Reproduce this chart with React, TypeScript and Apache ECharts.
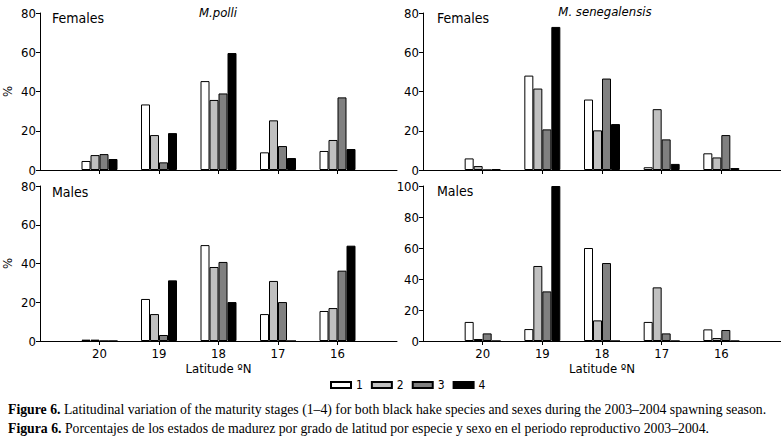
import React, { useEffect, useRef } from 'react';
import * as echarts from 'echarts';

const latitudes = [20, 19, 18, 17, 16];
const stageNames = ['1', '2', '3', '4'];
const stageColors = ['#ffffff', '#c0c0c0', '#808080', '#000000'];

// values per stage (1..4), each across latitudes 20,19,18,17,16
const polliFemales = [
  [4.6, 33.4, 45.3, 9.0, 9.7],
  [7.6, 17.8, 35.7, 25.3, 15.3],
  [8.1, 3.9, 39.0, 12.2, 37.0],
  [5.6, 18.8, 59.6, 6.1, 10.7],
];
const senegalensisFemales = [
  [5.9, 48.1, 35.9, 1.4, 8.5],
  [2.0, 41.5, 20.2, 31.0, 6.4],
  [0, 20.7, 46.6, 15.6, 17.8],
  [0.4, 72.9, 23.4, 3.1, 1.0],
];
const polliMales = [
  [0.7, 21.7, 49.5, 13.9, 15.5],
  [0.7, 13.9, 38.2, 31.0, 17.0],
  [0, 3.1, 40.8, 20.1, 36.3],
  [0, 31.3, 20.1, 0, 49.2],
];
const senegalensisMales = [
  [12.3, 7.7, 60.0, 12.3, 7.5],
  [1.3, 48.4, 13.3, 34.6, 1.9],
  [4.9, 32.0, 50.3, 4.9, 7.1],
  [0, 100, 0, 0, 0],
];

const yMax = [80, 80, 80, 100];
const panelTexts = ['Females', 'Females', 'Males', 'Males'];
const speciesTitles = ['M.polli', 'M. senegalensis'];
const xAxisTitle = 'Latitude ºN';
const yAxisTitle = '%';
const captionEnBold = 'Figure 6.';
const captionEn = ' Latitudinal variation of the maturity stages (1–4) for both black hake species and sexes during the 2003–2004 spawning season.';
const captionEsBold = 'Figura 6.';
const captionEs = ' Porcentajes de los estados de madurez por grado de latitud por especie y sexo en el periodo reproductivo 2003–2004.';

const FONT = "'Liberation Sans Narrow', 'Arial Narrow', 'DejaVu Sans Condensed', 'Liberation Sans', sans-serif";
const SERIF = "'Liberation Serif', 'Times New Roman', serif";

export default function App() {
  const ref = useRef<HTMLDivElement>(null);
  useEffect(() => {
    const chart = echarts.init(ref.current!, null, { renderer: 'svg' });
    const panels = [polliFemales, senegalensisFemales, polliMales, senegalensisMales];
    const grids = [
      { left: 37, top: 13, width: 360, height: 157 },
      { left: 423, top: 13, width: 360, height: 157 },
      { left: 37, top: 186, width: 360, height: 155 },
      { left: 423, top: 186, width: 360, height: 155 },
    ];
    const xAxis = grids.map((_, i) => {
      const bottom = i >= 2;
      return {
        type: 'value',
        gridIndex: i,
        min: 15,
        max: 21,
        interval: 1,
        inverse: true,
        axisLine: { show: true, onZero: false, lineStyle: { color: '#000', width: 1 } },
        axisTick: { show: true, length: 4, customValues: latitudes, lineStyle: { color: '#000', width: 1 } },
        axisLabel: {
          show: bottom,
          customValues: latitudes,
          margin: 6,
          color: '#000',
          fontSize: 13,
          fontFamily: FONT,
        },
        splitLine: { show: false },
        name: bottom ? xAxisTitle : '',
        nameLocation: 'middle',
        nameGap: 21,
        nameTextStyle: { color: '#000', fontSize: 13, fontFamily: FONT },
      };
    });
    const yAxis = grids.map((_, i) => ({
      type: 'value',
      gridIndex: i,
      min: 0,
      max: yMax[i],
      interval: 20,
      axisLine: { show: true, lineStyle: { color: '#000', width: 1 } },
      axisTick: { show: true, length: 4, lineStyle: { color: '#000', width: 1 } },
      axisLabel: { margin: 4, color: '#000', fontSize: 13, fontFamily: FONT },
      splitLine: { show: false },
      name: i % 2 === 0 ? yAxisTitle : '',
      nameLocation: 'middle',
      nameRotate: 90,
      nameGap: 26,
      nameTextStyle: { color: '#000', fontSize: 13, fontFamily: FONT },
    }));
    const series: any[] = [];
    panels.forEach((panel, p) => {
      panel.forEach((vals, s) => {
        series.push({
          type: 'bar',
          name: stageNames[s],
          xAxisIndex: p,
          yAxisIndex: p,
          barWidth: 9,
          barGap: '0%',
          silent: true,
          itemStyle: { color: stageColors[s], borderColor: '#000', borderWidth: 1 },
          data: latitudes.map((lat, k) => [lat, vals[k]]),
        });
      });
    });
    const txt = (text: string, x: number, y: number, size: number, extra: any = {}) => ({
      type: 'text',
      x,
      y,
      silent: true,
      style: {
        text,
        fill: '#000',
        fontSize: size,
        fontFamily: FONT,
        verticalAlign: 'middle',
        align: 'left',
        ...extra,
      },
    });
    const caption = (bold: string, rest: string, y: number) => ({
      type: 'text',
      x: 8,
      y,
      silent: true,
      style: {
        text: '{b|' + bold + '}' + rest,
        fill: '#000',
        fontSize: 13.75,
        fontFamily: SERIF,
        verticalAlign: 'middle',
        rich: { b: { fontWeight: 'bold', fontSize: 13.75, fontFamily: SERIF, fill: '#000' } },
      },
    });
    const graphic = [
      txt(panelTexts[0], 52, 18, 14),
      txt(panelTexts[1], 437, 18, 14),
      txt(panelTexts[2], 52, 192, 14),
      txt(panelTexts[3], 437, 191, 14),
      txt(speciesTitles[0], 218, 12, 13, { align: 'center', fontStyle: 'italic' }),
      txt(speciesTitles[1], 605, 11, 13, { align: 'center', fontStyle: 'italic' }),
      caption(captionEnBold, captionEn, 409),
      caption(captionEsBold, captionEs, 428),
    ];
    chart.setOption({
      animation: false,
      backgroundColor: '#fff',
      grid: grids,
      xAxis,
      yAxis,
      series,
      graphic,
      legend: {
        data: stageNames,
        left: 330,
        top: 379,
        padding: 0,
        itemWidth: 20,
        itemHeight: 6,
        itemGap: 8,
        icon: 'rect',
        selectedMode: false,
        textStyle: { color: '#000', fontSize: 12, fontFamily: FONT },
      },
    });
    return () => chart.dispose();
  }, []);
  return (
    <div
      ref={ref}
      style={{ position: 'fixed', left: 0, top: 0, width: 781, height: 441, background: '#fff' }}
    />
  );
}
